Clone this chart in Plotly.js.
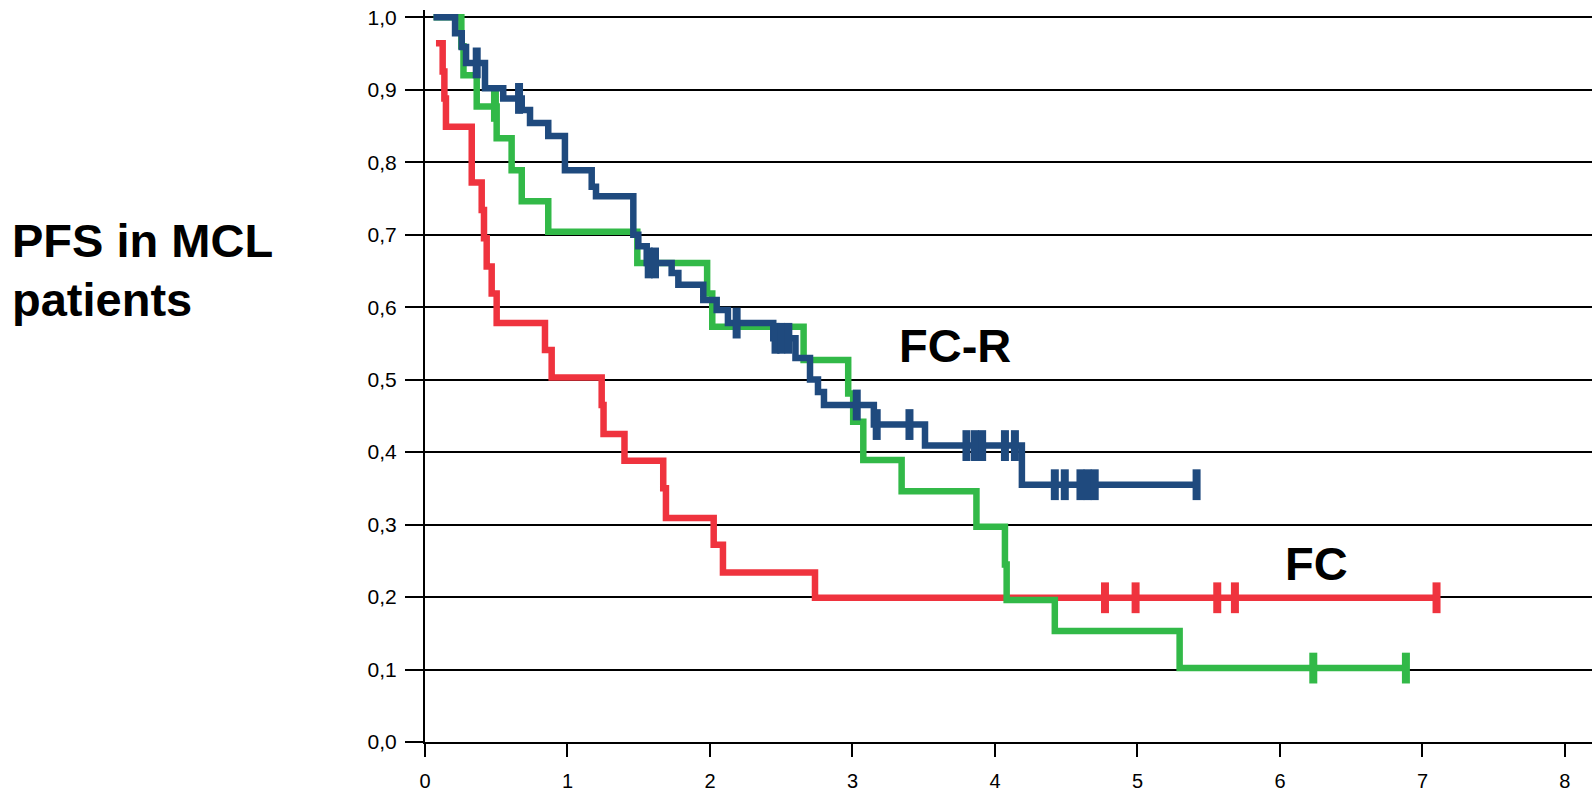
<!DOCTYPE html>
<html>
<head>
<meta charset="utf-8">
<script src="https://cdn.plot.ly/plotly-3.0.1.min.js"></script>
<style>html,body{margin:0;padding:0;background:#fff;}#chart{width:1592px;height:791px;}</style>
</head>
<body>
<div id="chart"></div>
<script>
// ---- data ----
const xTickVals = [0, 1, 2, 3, 4, 5, 6, 7, 8];
const xTickText = ['0', '1', '2', '3', '4', '5', '6', '7', '8'];
const yTickVals = [0, 0.1, 0.2, 0.3, 0.4, 0.5, 0.6, 0.7, 0.8, 0.9, 1.0];
const yTickText = ['0,0', '0,1', '0,2', '0,3', '0,4', '0,5', '0,6', '0,7', '0,8', '0,9', '1,0'];

// FC (red)
const fcTime = [0.077, 0.124, 0.136, 0.147, 0.328, 0.398, 0.414, 0.433, 0.468, 0.503, 0.842, 0.889, 1.240, 1.253, 1.400, 1.672, 1.691, 2.026, 2.091, 2.737, 7.099];
const fcSurv = [0.964, 0.925, 0.888, 0.849, 0.772, 0.734, 0.695, 0.656, 0.619, 0.578, 0.541, 0.503, 0.465, 0.425, 0.388, 0.350, 0.309, 0.272, 0.234, 0.199, 0.199];
const fcCensor = [4.772, 4.987, 5.560, 5.684, 7.099];

// green curve
const gTime = [0.06, 0.255, 0.27, 0.363, 0.503, 0.608, 0.679, 0.865, 1.49, 1.98, 2.016, 2.657, 2.970, 3.005, 3.076, 3.345, 3.870, 4.070, 4.082, 4.420, 5.296, 6.884];
const gSurv = [1.0, 0.960, 0.920, 0.877, 0.833, 0.789, 0.746, 0.704, 0.661, 0.619, 0.573, 0.527, 0.481, 0.442, 0.389, 0.346, 0.297, 0.245, 0.196, 0.153, 0.102, 0.102];
const gCensor = [0.491, 6.234, 6.884];

// FC-R (blue)
const fcrTime = [0.06, 0.211, 0.258, 0.288, 0.421, 0.549, 0.679, 0.737, 0.865, 0.982, 1.170, 1.200, 1.462, 1.497, 1.556, 1.731, 1.778, 1.953, 2.047, 2.126, 2.444, 2.600, 2.702, 2.758, 2.800, 3.150, 3.509, 4.189, 5.415];
const fcrSurv = [1.0, 0.978, 0.959, 0.937, 0.902, 0.888, 0.872, 0.854, 0.836, 0.789, 0.766, 0.753, 0.700, 0.684, 0.661, 0.647, 0.631, 0.610, 0.596, 0.578, 0.557, 0.530, 0.500, 0.483, 0.465, 0.438, 0.409, 0.355, 0.355];
const fcrCensor = [0.363, 0.660, 1.570, 1.614, 2.187, 2.460, 2.500, 2.550, 3.030, 3.170, 3.400, 3.800, 3.860, 3.910, 4.070, 4.140, 4.420, 4.490, 4.600, 4.650, 4.700, 5.415];

const labels = ['PFS in MCL', 'patients', 'FC-R', 'FC'];

// ---- helpers ----
function survAt(times, survs, t) {
  let s = survs[0];
  for (let i = 0; i < times.length; i++) { if (times[i] <= t + 1e-9) s = survs[i]; }
  return s;
}
const RED = 'rgb(239,51,62)', GREEN = 'rgb(50,185,72)', BLUE = 'rgb(31,74,126)';

function curve(times, survs, color) {
  return {x: times, y: survs, mode: 'lines', type: 'scatter', line: {shape: 'hv', color: color, width: 6.5}, hoverinfo: 'skip', cliponaxis: false};
}
function censors(ct, times, survs, color) {
  return {x: ct, y: ct.map(t => survAt(times, survs, t)), mode: 'markers', type: 'scatter',
    marker: {symbol: 'line-ns', size: 22, line: {color: color, width: 8}}, hoverinfo: 'skip', cliponaxis: false};
}

const traces = [
  curve(fcTime, fcSurv, RED), censors(fcCensor, fcTime, fcSurv, RED),
  curve(gTime, gSurv, GREEN), censors(gCensor, gTime, gSurv, GREEN),
  curve(fcrTime, fcrSurv, BLUE), censors(fcrCensor, fcrTime, fcrSurv, BLUE)
];

const FONT = 'Liberation Sans, Arial, Helvetica, sans-serif';
const layout = {
  width: 1592, height: 791,
  margin: {l: 425, r: 0, t: 10, b: 49, pad: 0},
  paper_bgcolor: '#fff', plot_bgcolor: '#fff',
  showlegend: false,
  font: {family: FONT, color: '#000'},
  xaxis: {
    range: [0, 8.19], tickmode: 'array', tickvals: xTickVals, ticktext: xTickText,
    showgrid: false, zeroline: false, showline: true, linecolor: '#000', linewidth: 2,
    ticks: 'outside', ticklen: 13, tickwidth: 2, tickcolor: '#000',
    tickfont: {family: FONT, size: 20, color: '#000'}, ticklabelstandoff: 7, fixedrange: true
  },
  yaxis: {
    range: [0, 1.01], tickmode: 'array', tickvals: yTickVals, ticktext: yTickText,
    showgrid: true, gridcolor: '#000', gridwidth: 2, zeroline: false,
    showline: true, linecolor: '#000', linewidth: 2,
    ticks: 'outside', ticklen: 18, tickwidth: 2, tickcolor: '#000',
    tickfont: {family: FONT, size: 21, color: '#000'}, ticklabelstandoff: 4, fixedrange: true
  },
  annotations: [
    {text: '<b>' + labels[0] + '</b>', xref: 'paper', yref: 'y', x: -0.3556, y: 0.692, xanchor: 'left', yanchor: 'middle', showarrow: false, font: {family: FONT, size: 47, color: '#000'}},
    {text: '<b>' + labels[1] + '</b>', xref: 'paper', yref: 'y', x: -0.3556, y: 0.61, xanchor: 'left', yanchor: 'middle', showarrow: false, font: {family: FONT, size: 47, color: '#000'}},
    {text: '<b>' + labels[2] + '</b>', xref: 'x', yref: 'y', x: 3.719, y: 0.547, xanchor: 'center', yanchor: 'middle', showarrow: false, font: {family: FONT, size: 47, color: '#000'}},
    {text: '<b>' + labels[3] + '</b>', xref: 'x', yref: 'y', x: 6.253, y: 0.246, xanchor: 'center', yanchor: 'middle', showarrow: false, font: {family: FONT, size: 47, color: '#000'}}
  ]
};

Plotly.newPlot('chart', traces, layout, {staticPlot: true, displayModeBar: false});
</script>
</body>
</html>
